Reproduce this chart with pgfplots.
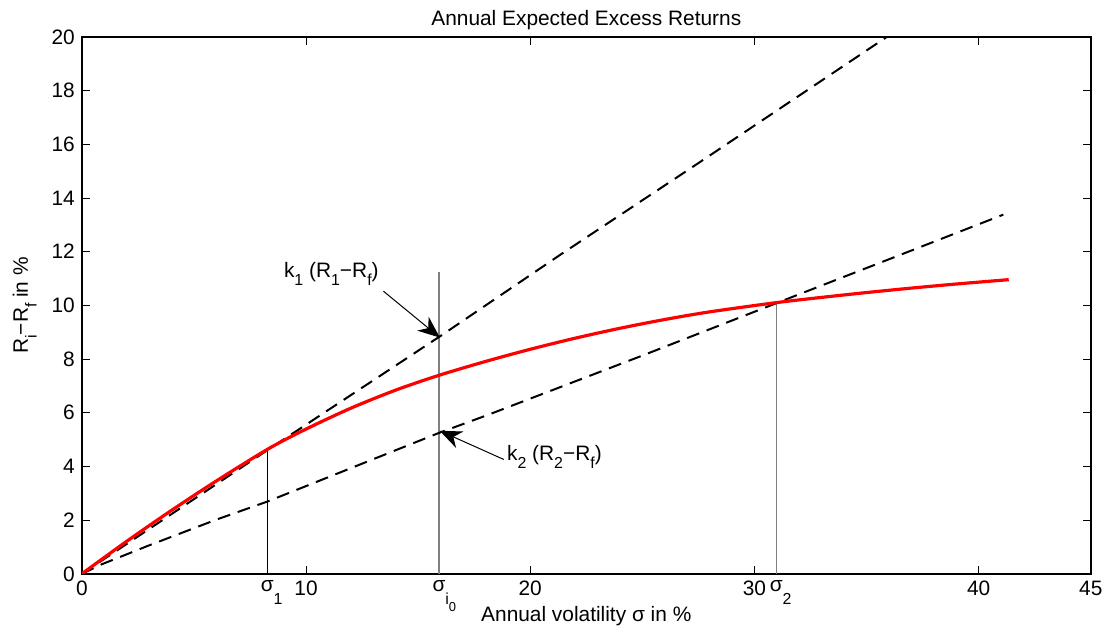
\documentclass[border=0pt]{standalone}
\usepackage{pgfplots}
\pgfplotsset{compat=1.18}
\usepackage{fontspec}
\setmainfont{Liberation Sans}
\usetikzlibrary{arrows.meta}
\newcommand\sub[1]{\raisebox{-0.42em}{\fontsize{8}{9}\selectfont #1}}
\newcommand\ssub[1]{\raisebox{-0.4em}{\fontsize{6.5}{7}\selectfont #1}}
\begin{document}
\begin{tikzpicture}
\begin{axis}[
  scale only axis, width=505.5bp, height=269bp,
  xmin=0, xmax=45, ymin=0, ymax=20,
  xtick={0,10,20,30,40,45}, ytick={0,2,...,20},
  extra x ticks={8.27,15.93,30.97},
  extra x tick labels={\raisebox{0.2em}{σ}\rlap{\sub{1}},\raisebox{0.2em}{σ}\rlap{\sub{i\ssub{0}}},\raisebox{0.2em}{σ}\rlap{\sub{2}}},
  extra x tick style={major tick length=0pt},
  major tick length=4bp,
  tick style={black, line width=0.5bp},
  axis line style={line width=0.8bp},
  font=\fontsize{10.5}{12}\selectfont,
  /pgf/number format/assume math mode=true,
  every axis title shift=0pt,
  title={Annual Expected Excess Returns},
  title style={at={(axis description cs:0.5,1.0204)}, anchor=base},
  xlabel={Annual volatility σ in \%},
  xlabel style={at={(axis description cs:0.5,-0.0892)}, anchor=base},
  ylabel={R\sub{i}−R\sub{f} in \%},
  ylabel style={at={(axis description cs:-0.0534,0.5)}, anchor=base, rotate=0},
  clip=true,
]
% vertical guide lines
\addplot[black, line width=0.5bp] coordinates {(8.27,0) (8.27,4.62)};
\addplot[black!50, line width=0.6bp] coordinates {(15.93,0) (15.93,11.23)};
\addplot[black!50, line width=0.6bp] coordinates {(30.97,0) (30.97,10.1)};
% k1 tangent line
\addplot[black, line width=1bp, dash pattern=on 6.5bp off 4bp] coordinates {
(0,0) (8.3,4.62) (16.07,8.9) (21.4,11.92) (27.5,15.3) (36.6,20.39)};
% k2 line
\addplot[black, line width=1bp, dash pattern=on 6.5bp off 4bp] coordinates {
(0,0) (0.9,0.36) (3,1.06) (6,2.02) (8.3,2.7) (15.93,5.25) (18.14,5.93) (25,8.13) (30.97,10.08) (35.3,11.49) (41.1,13.38)};
% efficient curve
\addplot[red, line width=1.6bp, smooth] coordinates {
(0,0) (2,1.211) (4,2.364) (6,3.460) (8.3,4.648) (10,5.392) (12,6.171) (14,6.844) (15.93,7.395)
(18,7.910) (20,8.365) (22,8.777) (24,9.147) (26,9.474) (28,9.758) (30.97,10.102)
(33,10.298) (35,10.478) (37,10.644) (39,10.796) (41.34,10.958)};
% annotations
\draw[-{Stealth[length=11bp,width=9bp,inset=3.5bp]}, line width=0.5bp] (axis cs:13.45,10.53) -- (axis cs:15.97,8.8);
\draw[-{Stealth[length=11bp,width=9bp,inset=3.5bp]}, line width=0.5bp] (axis cs:18.82,4.26) -- (axis cs:15.96,5.33);
\node[anchor=base west, inner sep=0pt] at (axis cs:9.0,11.05) {k\sub{1} (R\sub{1}−R\sub{f})};
\node[anchor=base west, inner sep=0pt] at (axis cs:18.95,4.24) {k\sub{2} (R\sub{2}−R\sub{f})};
\end{axis}
\path (-41bp,-27.5bp) rectangle (513.5bp,287.5bp);
\end{tikzpicture}
\end{document}
